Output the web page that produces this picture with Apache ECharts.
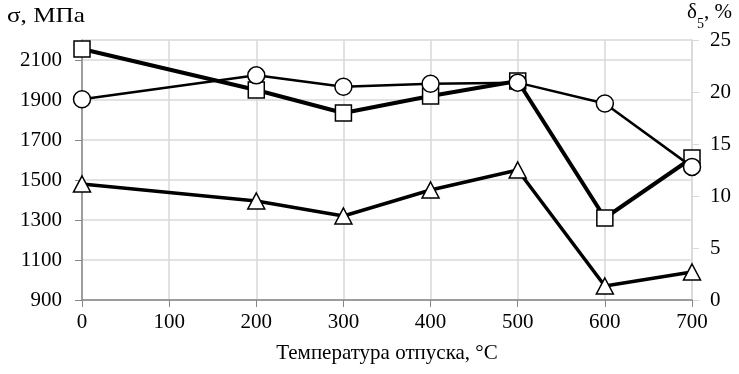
<!DOCTYPE html>
<html>
<head>
<meta charset="utf-8">
<script src="https://cdn.jsdelivr.net/npm/echarts@6/dist/echarts.min.js"></script>
<style>
  html, body { margin: 0; padding: 0; background: #fff; }
  #chart { width: 739px; height: 374px; }
</style>
</head>
<body>
<div id="chart"></div>
<script>
// температура отпуска, °C
const temps = [0, 200, 300, 400, 500, 600, 700]
// σ, МПа (квадраты)
const sigmaB = [2155, 1950, 1835, 1920, 1995, 1310, 1610]
// σ, МПа (треугольники)
const sigma02 = [1480, 1395, 1320, 1450, 1550, 970, 1040]
// δ5, % (кружки)
const delta5 = [19.3, 21.6, 20.5, 20.8, 20.9, 18.9, 12.8]

const font = 'Liberation Serif'
const fs = 21
const gridColor = '#d9d9d9'
const axisColor = '#868686'

const chart = echarts.init(document.getElementById('chart'))

function pairs (vals) {
  return temps.map((t, i) => [t, vals[i]])
}

const plain = v => String(v)

const option = {
  animation: false,
  textStyle: { fontFamily: font, color: '#000' },
  grid: { left: 82, right: 47, top: 40, bottom: 74 },
  xAxis: {
    type: 'value',
    min: 0,
    max: 700,
    interval: 100,
    name: 'Температура отпуска, °С',
    nameLocation: 'middle',
    nameGap: 43,
    nameTextStyle: { fontFamily: font, fontSize: fs, color: '#000' },
    axisLine: { lineStyle: { color: axisColor, width: 1.5 } },
    axisTick: { show: true, length: 7, lineStyle: { color: axisColor } },
    axisLabel: { fontFamily: font, fontSize: fs, color: '#000', margin: 12, formatter: plain },
    splitLine: { show: true, lineStyle: { color: gridColor, width: 1.5 } }
  },
  yAxis: [
    {
      type: 'value',
      min: 900,
      max: 2200,
      interval: 200,
      axisLine: { show: true, lineStyle: { color: axisColor, width: 1.5 } },
      axisTick: { show: true, length: 7, lineStyle: { color: axisColor } },
      axisLabel: { fontFamily: font, fontSize: fs, color: '#000', margin: 20, showMaxLabel: false, formatter: plain },
      splitLine: { show: true, lineStyle: { color: gridColor, width: 1.5 } }
    },
    {
      type: 'value',
      min: 0,
      max: 25,
      interval: 5,
      position: 'right',
      axisLine: { show: true, lineStyle: { color: gridColor, width: 1.5 } },
      axisTick: { show: true, length: 7, lineStyle: { color: gridColor } },
      axisLabel: { fontFamily: font, fontSize: fs, color: '#000', margin: 18, formatter: plain },
      splitLine: { show: false }
    }
  ],
  graphic: [
    {
      type: 'text',
      left: 7,
      top: 6,
      scaleX: 1.2,
      style: { text: 'σ, МПа', font: fs + 'px "Liberation Serif"', fill: '#000' }
    },
    {
      type: 'text',
      right: 7,
      top: 2,
      style: {
        text: '{a|δ}{s|5}{a|, %}',
        rich: {
          a: { fontFamily: font, fontSize: fs, fill: '#000', verticalAlign: 'top', height: 26 },
          s: { fontFamily: font, fontSize: 14, fill: '#000', padding: [12, 0, 0, 0], verticalAlign: 'top', height: 26 }
        }
      }
    }
  ],
  series: [
    {
      name: 'σв',
      type: 'line',
      yAxisIndex: 0,
      data: pairs(sigmaB),
      symbol: 'rect',
      symbolSize: 16,
      lineStyle: { color: '#000', width: 4 },
      itemStyle: { color: '#fff', borderColor: '#000', borderWidth: 1.5 },
      z: 3
    },
    {
      name: 'σ0,2',
      type: 'line',
      yAxisIndex: 0,
      data: pairs(sigma02),
      symbol: 'triangle',
      symbolSize: [17, 16],
      lineStyle: { color: '#000', width: 3.5 },
      itemStyle: { color: '#fff', borderColor: '#000', borderWidth: 1.5 },
      z: 3
    },
    {
      name: 'δ5',
      type: 'line',
      yAxisIndex: 1,
      data: pairs(delta5),
      symbol: 'circle',
      symbolSize: 17,
      lineStyle: { color: '#000', width: 2.5 },
      itemStyle: { color: '#fff', borderColor: '#000', borderWidth: 1.5 },
      z: 4
    }
  ]
}

chart.setOption(option)
</script>
</body>
</html>
